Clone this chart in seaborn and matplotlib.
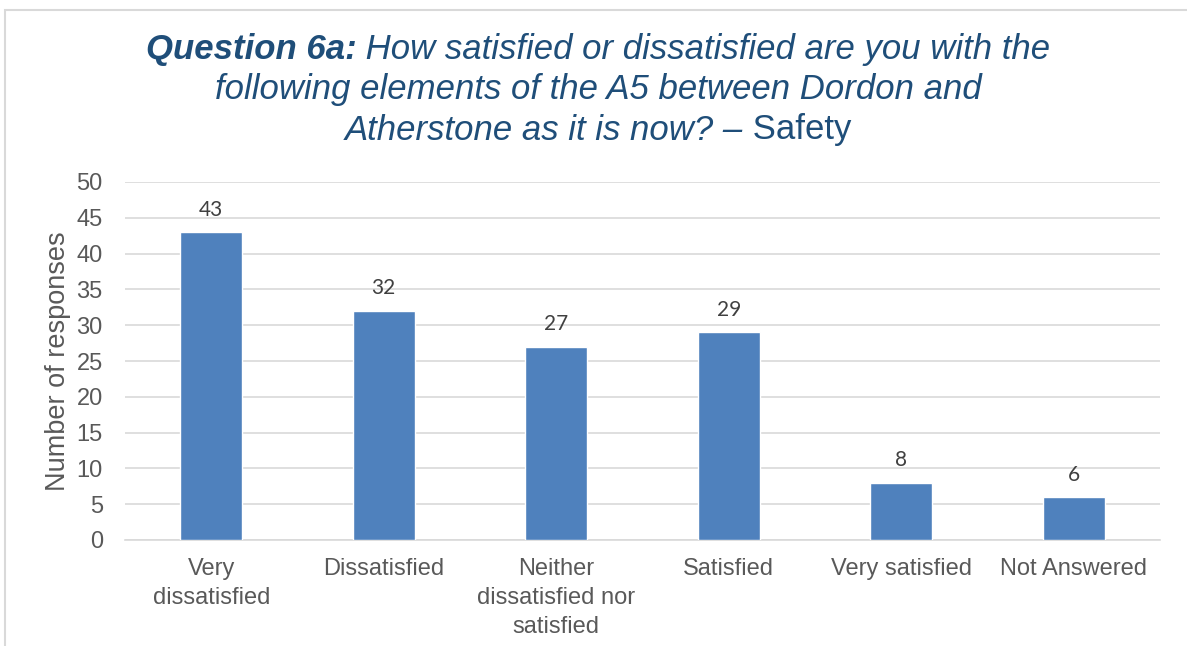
import matplotlib
matplotlib.use("Agg")
import matplotlib.pyplot as plt
import seaborn as sns
import pandas as pd
from matplotlib.patches import Rectangle

categories = ["Very\ndissatisfied", "Dissatisfied", "Neither\ndissatisfied nor\nsatisfied",
              "Satisfied", "Very satisfied", "Not Answered"]
values = [43, 32, 27, 29, 8, 6]
yticks = [0, 5, 10, 15, 20, 25, 30, 35, 40, 45, 50]

sns.set_theme(style="white")
plt.rcParams['font.family'] = ['Liberation Sans', 'DejaVu Sans']

fig = plt.figure(figsize=(11.87, 6.46), dpi=100)
ax = fig.add_axes([125/1187, 1-540/646, (1160-125)/1187, (540-182)/646])

df = pd.DataFrame({"cat": categories, "val": values})
sns.barplot(data=df, x="cat", y="val", color="#4F81BD", saturation=1, width=0.36, ax=ax, zorder=3)

ax.set_ylim(0, 50)
ax.set_yticks(yticks)
ax.set_xlim(-0.5, len(categories) - 0.5)
ax.yaxis.grid(True, color="#D9D9D9", linewidth=1.2, zorder=0)
ax.set_axisbelow(True)
for s in ["top", "right", "left"]:
    ax.spines[s].set_visible(False)
ax.spines["bottom"].set_color("#D9D9D9")
ax.spines["bottom"].set_linewidth(1.2)
ax.tick_params(axis="both", length=0, labelsize=17, labelcolor="#595959")
ax.tick_params(axis="y", pad=16)
ax.tick_params(axis="x", pad=13)
for lbl in ax.get_xticklabels():
    lbl.set_linespacing(1.4)
ax.set_xlabel("")
ax.set_ylabel("Number of responses", fontsize=19.5, color="#595959")
ax.yaxis.set_label_coords((58 - 125) / 1035, 0.5)
ax.yaxis.label.set_va("center")

for c in ax.containers:
    ax.bar_label(c, padding=9, fontsize=15, color="#404040", family=["Lato", "DejaVu Sans"])

# Border
fig.patches.append(Rectangle((5/1187, -0.1), 1.2, (646 - 10)/646 + 0.1, transform=fig.transFigure,
                             fill=False, edgecolor="#D9D9D9", linewidth=1.5, zorder=0))

# Title with mixed styles
title_color = "#1F4E79"
fs = 25
cx = 598 / 1187
lines = [
    [("Question 6a:", "bold", "italic"), (" How satisfied or dissatisfied are you with the", "normal", "italic")],
    [("following elements of the A5 between Dordon and", "normal", "italic")],
    [("Atherstone as it is now? \u2013", "normal", "italic"), (" Safety", "normal", "normal")],
]
ys = [1 - 50/646, 1 - 90/646, 1 - 130/646]
renderer = fig.canvas.get_renderer()
for parts, y in zip(lines, ys):
    texts = []
    for s, w, st in parts:
        t = fig.text(0, y, s, fontsize=fs, fontweight=w, fontstyle=st, color=title_color,
                     va="center", ha="left")
        texts.append(t)
    widths = [t.get_window_extent(renderer).width / fig.bbox.width for t in texts]
    x = cx - sum(widths) / 2
    for t, wdt in zip(texts, widths):
        t.set_x(x)
        x += wdt

fig.savefig("out.png", dpi=100)
